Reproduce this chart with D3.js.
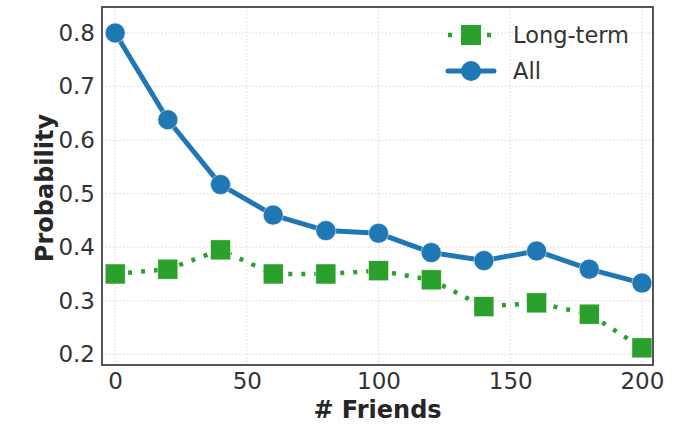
<!DOCTYPE html>
<html>
<head>
<meta charset="utf-8">
<script src="https://cdn.jsdelivr.net/npm/d3@7"></script>
<style>
  body { margin: 0; background: #fff; }
  svg { display: block; font-family: "DejaVu Sans", sans-serif; }
</style>
</head>
<body>
<svg id="chart" width="686" height="424"></svg>
<script>
// data
var friends = [0, 20, 40, 60, 80, 100, 120, 140, 160, 180, 200];
var allProb = [0.800, 0.638, 0.517, 0.460, 0.431, 0.426, 0.390, 0.375, 0.393, 0.359, 0.333];
var longTermProb = [0.350, 0.359, 0.395, 0.350, 0.350, 0.356, 0.339, 0.289, 0.296, 0.275, 0.212];
var xTicks = [0, 50, 100, 150, 200];
var yTicks = [0.2, 0.3, 0.4, 0.5, 0.6, 0.7, 0.8];

var svg = d3.select("#chart");
var margin = {top: 7, right: 33, bottom: 59, left: 102};
var width = 686 - margin.left - margin.right;
var height = 424 - margin.top - margin.bottom;

var g = svg.append("g").attr("transform", "translate(" + margin.left + "," + margin.top + ")");

var x = d3.scaleLinear().domain([-5, 204.2]).range([0, width]);
var y = d3.scaleLinear().domain([0.18, 0.8486]).range([height, 0]);

// grid
g.append("g").selectAll("line").data(xTicks).enter().append("line")
    .attr("x1", function(d) { return x(d); }).attr("x2", function(d) { return x(d); })
    .attr("y1", 0).attr("y2", height)
    .attr("stroke", "#d8d8d8").attr("stroke-width", 1).attr("stroke-dasharray", "1.5,2");
g.append("g").selectAll("line").data(yTicks).enter().append("line")
    .attr("y1", function(d) { return y(d); }).attr("y2", function(d) { return y(d); })
    .attr("x1", 0).attr("x2", width)
    .attr("stroke", "#d8d8d8").attr("stroke-width", 1).attr("stroke-dasharray", "1.5,2");

// axes
var xAxis = g.append("g")
    .attr("transform", "translate(0," + height + ")")
    .call(d3.axisBottom(x).tickValues(xTicks).tickSize(0).tickPadding(8).tickFormat(d3.format("d")));
var yAxis = g.append("g")
    .call(d3.axisLeft(y).tickValues(yTicks).tickSize(0).tickPadding(7).tickFormat(d3.format(".1f")));
[xAxis, yAxis].forEach(function(a) {
  a.select(".domain").remove();
  a.selectAll("text").attr("font-family", "DejaVu Sans").style("font-size", "23px").attr("fill", "#333");
});

var lineFn = d3.line()
    .x(function(d) { return x(d[0]); })
    .y(function(d) { return y(d[1]); });

var longData = d3.zip(friends, longTermProb);
var allData = d3.zip(friends, allProb);

// long-term: dotted green with squares
g.append("path")
    .datum(longData)
    .attr("fill", "none")
    .attr("stroke", "#2ca02c")
    .attr("stroke-width", 4.5)
    .attr("stroke-dasharray", "4,9")
    .attr("d", lineFn);
g.append("g").selectAll("rect").data(longData).enter().append("rect")
    .attr("x", function(d) { return x(d[0]) - 10; })
    .attr("y", function(d) { return y(d[1]) - 10; })
    .attr("width", 20).attr("height", 20)
    .attr("fill", "#2ca02c").attr("stroke", "#fff").attr("stroke-width", 0.5);

// all: solid blue with circles
g.append("path")
    .datum(allData)
    .attr("fill", "none")
    .attr("stroke", "#1f77b4")
    .attr("stroke-width", 5)
    .attr("stroke-linejoin", "round")
    .attr("d", lineFn);
g.append("g").selectAll("circle").data(allData).enter().append("circle")
    .attr("cx", function(d) { return x(d[0]); })
    .attr("cy", function(d) { return y(d[1]); })
    .attr("r", 10)
    .attr("fill", "#1f77b4").attr("stroke", "#fff").attr("stroke-width", 0.5);

// frame
g.append("rect")
    .attr("width", width).attr("height", height)
    .attr("fill", "none").attr("stroke", "#444").attr("stroke-width", 1.8);

// axis labels
svg.append("text")
    .attr("x", margin.left + width / 2 + 0).attr("y", 418)
    .attr("text-anchor", "middle")
    .style("font-size", "24px").style("font-weight", "bold").attr("fill", "#262626")
    .text("# Friends");
svg.append("text")
    .attr("transform", "translate(53,188) rotate(-90)")
    .attr("text-anchor", "middle")
    .style("font-size", "24px").style("font-weight", "bold").attr("fill", "#262626")
    .text("Probability");

// legend
var legend = svg.append("g").attr("transform", "translate(446,35)");
legend.append("line").attr("x1", 2).attr("x2", 50).attr("y1", 0).attr("y2", 0)
    .attr("stroke", "#2ca02c").attr("stroke-width", 4.5).attr("stroke-dasharray", "4,9");
legend.append("rect").attr("x", 25 - 10).attr("y", -10).attr("width", 20).attr("height", 20)
    .attr("fill", "#2ca02c");
legend.append("text").attr("x", 67).attr("y", 0).attr("dy", "0.35em")
    .style("font-size", "22.5px").attr("fill", "#333").text("Long-term");
legend.append("line").attr("x1", 2).attr("x2", 48).attr("y1", 36).attr("y2", 36)
    .attr("stroke", "#1f77b4").attr("stroke-width", 5).attr("stroke-linecap", "round");
legend.append("circle").attr("cx", 25).attr("cy", 36).attr("r", 10).attr("fill", "#1f77b4");
legend.append("text").attr("x", 67).attr("y", 36).attr("dy", "0.35em")
    .style("font-size", "22.5px").attr("fill", "#333").text("All");
</script>
</body>
</html>
